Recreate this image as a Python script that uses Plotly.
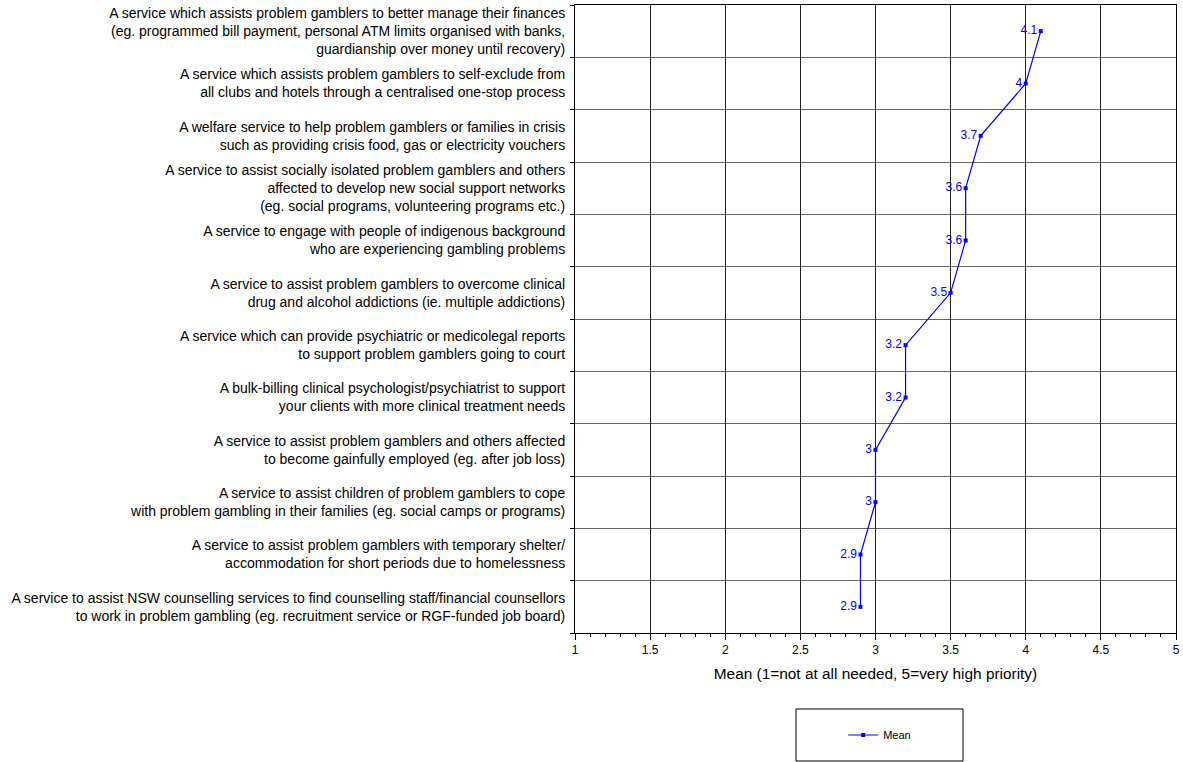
import plotly.graph_objects as go

categories = [
    "A service which assists problem gamblers to better manage their finances<br>(eg. programmed bill payment, personal ATM limits organised with banks,<br>guardianship over money until recovery)",
    "A service which assists problem gamblers to self-exclude from<br>all clubs and hotels through a centralised one-stop process",
    "A welfare service to help problem gamblers or families in crisis<br>such as providing crisis food, gas or electricity vouchers",
    "A service to assist socially isolated problem gamblers and others<br>affected to develop new social support networks<br>(eg. social programs, volunteering programs etc.)",
    "A service to engage with people of indigenous background<br>who are experiencing gambling problems",
    "A service to assist problem gamblers to overcome clinical<br>drug and alcohol addictions (ie. multiple addictions)",
    "A service which can provide psychiatric or medicolegal reports<br>to support problem gamblers going to court",
    "A bulk-billing clinical psychologist/psychiatrist to support<br>your clients with more clinical treatment needs",
    "A service to assist problem gamblers and others affected<br>to become gainfully employed (eg. after job loss)",
    "A service to assist children of problem gamblers to cope<br>with problem gambling in their families (eg. social camps or programs)",
    "A service to assist problem gamblers with temporary shelter/<br>accommodation for short periods due to homelessness",
    "A service to assist NSW counselling services to find counselling staff/financial counsellors<br>to work in problem gambling (eg. recruitment service or RGF-funded job board)",
]
mean_values = [4.1, 4.0, 3.7, 3.6, 3.6, 3.5, 3.2, 3.2, 3.0, 3.0, 2.9, 2.9]
x_tick_vals = [1, 1.5, 2, 2.5, 3, 3.5, 4, 4.5, 5]
x_tick_text = ["1", "1.5", "2", "2.5", "3", "3.5", "4", "4.5", "5"]
x_title = "Mean (1=not at all needed, 5=very high priority)"
series_name = "Mean"

n = len(categories)
ypos = list(range(n))
boundaries = [i + 0.5 for i in range(-1, n)]

FONT = "Liberation Sans, Arial, Helvetica, sans-serif"

fig = go.Figure()
fig.add_trace(go.Scatter(
    x=mean_values, y=ypos, mode="lines+markers+text",
    name=series_name,
    line=dict(color="#0000ff", width=1.2),
    marker=dict(color="#0000ff", size=4, symbol="square"),
    text=[f"{v:g}" for v in mean_values],
    textposition="middle left",
    textfont=dict(color="#0000ff", size=12, family=FONT),
))

fig.update_layout(
    width=1183, height=762,
    margin=dict(l=575, r=7, t=5, b=129, autoexpand=False),
    paper_bgcolor="white", plot_bgcolor="white",
    font=dict(family=FONT, color="black"),
    showlegend=True,
    legend=dict(x=0.507, y=-0.1624, xanchor="center", yanchor="middle",
                orientation="h", font=dict(size=11, family=FONT),
                bgcolor="rgba(0,0,0,0)", borderwidth=0),
    shapes=[dict(type="rect", xref="paper", yref="paper",
                 x0=0.3677, x1=0.6456, y0=-0.2038, y1=-0.121,
                 line=dict(color="black", width=1))],
)

fig.update_xaxes(
    range=[1, 5], tickvals=x_tick_vals, ticktext=x_tick_text,
    ticks="outside", ticklen=6, tickcolor="black",
    tickfont=dict(size=12, family=FONT),
    showgrid=True, gridcolor="#222222", gridwidth=1,
    showline=True, linecolor="black", linewidth=1, mirror=True,
    zeroline=False, automargin=False,
    minor=dict(dtick=0.1, tick0=1, ticks="outside", ticklen=3, tickcolor="black", showgrid=False),
    title=dict(text=x_title, font=dict(size=15.4, family=FONT), standoff=11),
)
fig.update_yaxes(
    range=[n - 0.5, -0.5], tickvals=ypos, ticktext=categories,
    ticks="", showgrid=False, zeroline=False, automargin=False,
    tickfont=dict(size=14, family=FONT), ticklabelstandoff=6,
    showline=True, linecolor="black", linewidth=1, mirror=True,
    minor=dict(tickvals=boundaries, ticks="outside", ticklen=4, tickcolor="black",
               showgrid=True, gridcolor="#666666", gridwidth=1),
)

fig.write_html(
    "out.html",
    config={"displayModeBar": False},
    post_script="document.body.style.margin='0';document.body.style.padding='0';document.body.style.overflow='hidden';",
)
